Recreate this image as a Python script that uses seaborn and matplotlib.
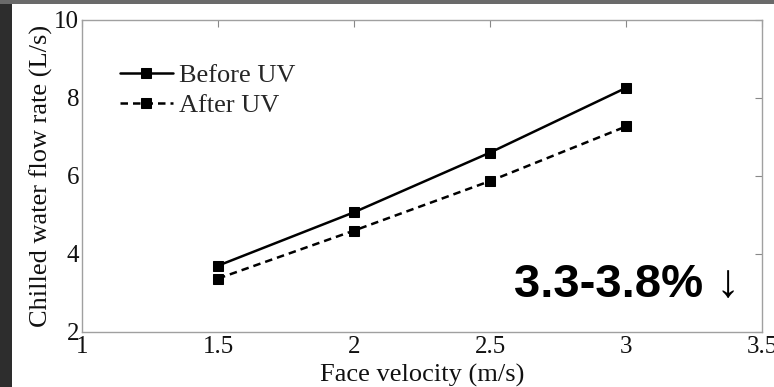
import matplotlib
matplotlib.use("Agg")
import matplotlib.pyplot as plt
import seaborn as sns
import pandas as pd
from matplotlib.patches import Rectangle

# Chilled water flow rate vs face velocity, before/after UV lamps
face_velocity = [1.5, 2.0, 2.5, 3.0]
before_uv = [3.70, 5.07, 6.60, 8.26]
after_uv = [3.37, 4.60, 5.87, 7.27]
series_names = ["Before UV", "After UV"]
x_ticks = [1, 1.5, 2, 2.5, 3, 3.5]
y_ticks = [2, 4, 6, 8, 10]
x_tick_labels = ["1", "1.5", "2", "2.5", "3", "3.5"]
y_tick_labels = ["2", "4", "6", "8", "10"]
reduction_text = "3.3-3.8% \u2193"

df = pd.DataFrame({
    "Face velocity": face_velocity * 2,
    "Flow": before_uv + after_uv,
    "Case": [series_names[0]] * 4 + [series_names[1]] * 4,
})

sns.set_style("white")
serif = ["Liberation Serif", "DejaVu Serif"]
plt.rcParams["font.family"] = serif

fig = plt.figure(figsize=(7.74, 3.87), dpi=100)
fig.patch.set_facecolor("white")
# slide frame: dark strip on the left, grey strip along the top
fig.patches.append(Rectangle((0, 0), 12 / 774, 1, transform=fig.transFigure,
                             facecolor="#2d2d2d", edgecolor="none", zorder=-1))
fig.patches.append(Rectangle((0, 1 - 4 / 387), 1, 4 / 387, transform=fig.transFigure,
                             facecolor="#6a6a6a", edgecolor="none", zorder=-1))

ax = fig.add_axes([82 / 774, 1 - 332 / 387, (762 - 82) / 774, (332 - 20) / 387])

sns.lineplot(data=df, x="Face velocity", y="Flow", hue="Case", style="Case",
             palette=["black", "black"], dashes={series_names[0]: "", series_names[1]: (3, 2)},
             markers={series_names[0]: "s", series_names[1]: "s"},
             markersize=6.5, linewidth=1.8, markeredgecolor="black", ax=ax, legend=True)

ax.set_xlim(1, 3.5)
ax.set_ylim(2, 10)
ax.set_xticks(x_ticks)
ax.set_xticklabels(x_tick_labels)
ax.set_yticks(y_ticks)
ax.set_yticklabels(y_tick_labels)
ax.tick_params(direction="in", length=5, width=0.8, color="#888888",
               top=True, right=True, labelsize=18, labelcolor="#111111")
ax.tick_params(axis="y", pad=2)
ax.tick_params(axis="x", pad=3)
for sp in ax.spines.values():
    sp.set_color("#a0a0a0")
    sp.set_linewidth(1.0)

ax.set_xlabel("Face velocity (m/s)", fontsize=19, labelpad=4, color="#111111")
ax.set_ylabel("Chilled water flow rate (L/s)", fontsize=19, labelpad=1, color="#111111")

leg = ax.legend(loc="upper left", bbox_to_anchor=(0.056, 0.86), frameon=False,
                fontsize=19, handlelength=2.0, handletextpad=0.25, labelspacing=0.25,
                borderaxespad=0, borderpad=0)
for line in leg.get_lines():
    line.set_linewidth(1.8)

ax.text(0.968, 0.112, reduction_text, transform=ax.transAxes, ha="right", va="baseline",
        fontsize=34, fontweight="bold", family=["Liberation Sans", "DejaVu Sans"],
        color="black")

fig.savefig("out.png", dpi=100)
